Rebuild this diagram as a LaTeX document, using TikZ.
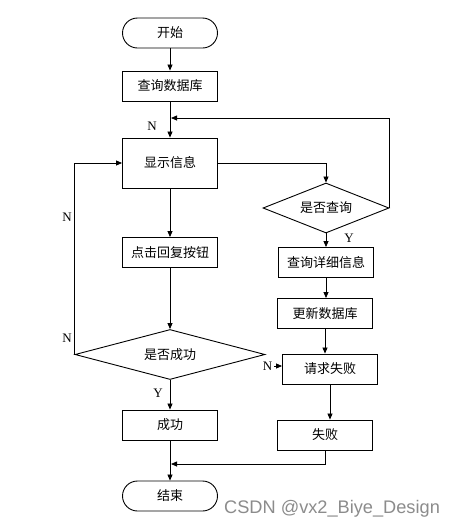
\documentclass[tikz,border=0pt]{standalone}
\usepackage{fontspec}
\setmainfont{Liberation Serif}
\newfontfamily\cjk{Noto Sans CJK SC}
\newfontfamily\wmfont{Liberation Sans}
\usetikzlibrary{shapes.geometric,arrows.meta}
\begin{document}
\begin{tikzpicture}[x=1pt,y=-1pt,
  box/.style={draw,line width=0.9pt,minimum width=95pt,minimum height=30pt,inner sep=0pt,font=\cjk\fontsize{13}{15}\selectfont},
  term/.style={box,rounded corners=15pt},
  dia/.style={draw,diamond,aspect=2.5,inner sep=0pt,line width=0.9pt,font=\cjk\fontsize{13}{15}\selectfont},
  arr/.style={-{Triangle[length=6pt,width=5pt]},line width=0.8pt},
  lbl/.style={font=\fontsize{13}{15}\selectfont,inner sep=0pt}
]
\useasboundingbox (0,0) rectangle (456,528);
\fill[white] (0,0) rectangle (456,528);
% nodes
\node[term] (start) at (170,33) {开始};
\node[box] (q) at (170,86) {查询数据库};
\node[box,minimum height=50pt] (show) at (170,163) {显示信息};
\node[box] (click) at (170,252.5) {点击回复按钮};
\node[dia,minimum width=190pt,minimum height=50pt] (ok) at (170,354.5) {是否成功};
\node[box] (succ) at (170,425) {成功};
\node[term] (end) at (170,496) {结束};
\node[dia,minimum width=126pt,minimum height=50pt] (ask) at (326,208) {是否查询};
\node[box] (detail) at (326,262.5) {查询详细信息};
\node[box] (upd) at (325,313.5) {更新数据库};
\node[box] (req) at (330,369) {请求失败};
\node[box] (fail) at (325,435) {失败};
% helper coordinates
\coordinate (back) at (170,118);
\coordinate (merge) at (170,464);
\coordinate (nstart) at (274,366);
% connectors
\draw[arr] (start) -- (q);
\draw[arr] (q) -- (show);
\draw[arr] (show) -- (click);
\draw[arr] (click) -- (ok);
\draw[arr] (ok) -- (succ);
\draw[arr] (succ) -- (end);
\draw[arr] (show.east) -| (ask.north);
\draw[arr,shorten >=1pt] (ask.east) |- (back);
\draw[arr] (ask.south) -- (ask.south |- detail.north);
\draw[arr] (detail.south) -- (detail.south |- upd.north);
\draw[arr] (upd.south) -- (upd.south |- req.north);
\draw[arr] (req.south) -- (req.south |- fail.north);
\draw[arr,shorten >=1pt] (fail.south) |- (merge);
\draw[arr] (ok.west) |- (show.west);
\draw[arr] (nstart) -- (nstart -| req.west);
% labels
\node[lbl] (n1) at (152,126) {N};
\node[lbl] (n2) at (67,217) {N};
\node[lbl] (n3) at (67,338) {N};
\node[lbl] (n4) at (267.5,366) {N};
\node[lbl] (y1) at (349,238) {Y};
\node[lbl] (y2) at (158,393) {Y};
% watermark
\node[anchor=west,inner sep=0pt,text=black!45,font=\wmfont\fontsize{18.2}{20}\selectfont] (wm) at (224,509) {CSDN @vx2\_Biye\_Design};
\end{tikzpicture}
\end{document}
